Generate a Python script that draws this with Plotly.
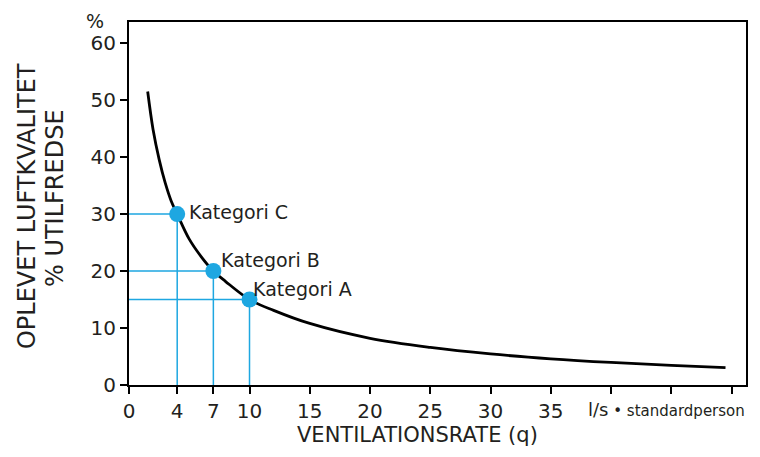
import plotly.graph_objects as go

# Curve (ventilation rate q, % dissatisfied)
curve_q = [1.55, 2, 2.5, 3, 3.5, 4, 5, 6, 7, 8, 10, 12, 15, 20, 25, 30, 35, 40, 45, 49.5]
curve_pd = [51.5, 44.8, 39.6, 35.5, 32.3, 30.0, 25.6, 22.5, 20.0, 18.2, 15.0, 13.1, 10.8, 8.2, 6.6, 5.45, 4.6, 3.96, 3.45, 3.05]

# Categories
kat_names = ["Kategori A", "Kategori B", "Kategori C"]
kat_q = [10, 7, 4]
kat_pd = [15, 20, 30]

x_tickvals = [0, 4, 7, 10, 15, 20, 25, 30, 35, 40, 45, 50]
x_ticktext = ["0", "4", "7", "10", "15", "20", "25", "30", "35", "", "", ""]
y_tickvals = [0, 10, 20, 30, 40, 50, 60]

TXT = "#231f20"
BLUE = "#1ea7e1"
FONT = "DejaVu Sans"

fig = go.Figure()

# guide lines
for q, p in zip(kat_q, kat_pd):
    fig.add_trace(go.Scatter(x=[0, q, q], y=[p, p, 0], mode="lines",
                             line=dict(color=BLUE, width=1.5), hoverinfo="skip",
                             showlegend=False, cliponaxis=False))

fig.add_trace(go.Scatter(x=curve_q, y=curve_pd, mode="lines",
                         line=dict(color="black", width=2.8, shape="spline"),
                         showlegend=False))

fig.add_trace(go.Scatter(x=kat_q, y=kat_pd, mode="markers",
                         marker=dict(color=BLUE, size=16), showlegend=False))

# labels
label_off = {"Kategori A": (0.1, 1.8), "Kategori B": (0.5, 1.9), "Kategori C": (0.8, 0.35)}
for n, q, p in zip(kat_names, kat_q, kat_pd):
    dx, dy = label_off[n]
    fig.add_annotation(x=q + dx, y=p + dy, text=n, showarrow=False, xanchor="left",
                       yanchor="middle", font=dict(family=FONT, size=19, color=TXT))

fig.update_layout(
    width=744, height=441,
    margin=dict(l=121, r=4, t=14, b=64),
    paper_bgcolor="white", plot_bgcolor="white",
    font=dict(family=FONT, color=TXT),
)
fig.update_xaxes(range=[0, 51.2], tickvals=x_tickvals, ticktext=x_ticktext,
                 showgrid=False, zeroline=False, showline=True, linecolor="black",
                 linewidth=2, mirror=True, ticks="outside", ticklen=7, tickwidth=2,
                 tickcolor="black", tickfont=dict(family=FONT, size=20, color=TXT))
fig.update_yaxes(range=[0, 63.7], tickvals=y_tickvals,
                 showgrid=False, zeroline=False, showline=True, linecolor="black",
                 linewidth=2, mirror=True, ticks="outside", ticklen=7, tickwidth=2,
                 tickcolor="black", tickfont=dict(family=FONT, size=20, color=TXT))

# axis titles & units
fig.add_annotation(xref="paper", yref="paper", x=0, xshift=-34, y=1.0, yshift=14,
                   yanchor="top", xanchor="center", text="%", showarrow=False,
                   font=dict(family=FONT, size=19, color=TXT))
fig.add_annotation(xref="x", yref="paper", x=23.9, y=0, yshift=-64, xanchor="center",
                   yanchor="bottom", text="VENTILATIONSRATE (q)", showarrow=False,
                   font=dict(family=FONT, size=21, color=TXT))
fig.add_annotation(xref="x", yref="paper", x=37.9, y=0, yshift=-24,
                   xanchor="left", yanchor="middle",
                   text="<span style='font-size:18px'>l/s</span> • standardperson",
                   showarrow=False, font=dict(family=FONT, size=15, color=TXT))
fig.add_annotation(xref="paper", yref="paper", x=0, xshift=-102, y=0.493,
                   xanchor="center", yanchor="middle", textangle=-90,
                   text="OPLEVET LUFTKVALITET", showarrow=False,
                   font=dict(family=FONT, size=24, color=TXT))
fig.add_annotation(xref="paper", yref="paper", x=0, xshift=-74, y=0.515,
                   xanchor="center", yanchor="middle", textangle=-90,
                   text="% UTILFREDSE", showarrow=False,
                   font=dict(family=FONT, size=24, color=TXT))

fig.write_html("out.html")
